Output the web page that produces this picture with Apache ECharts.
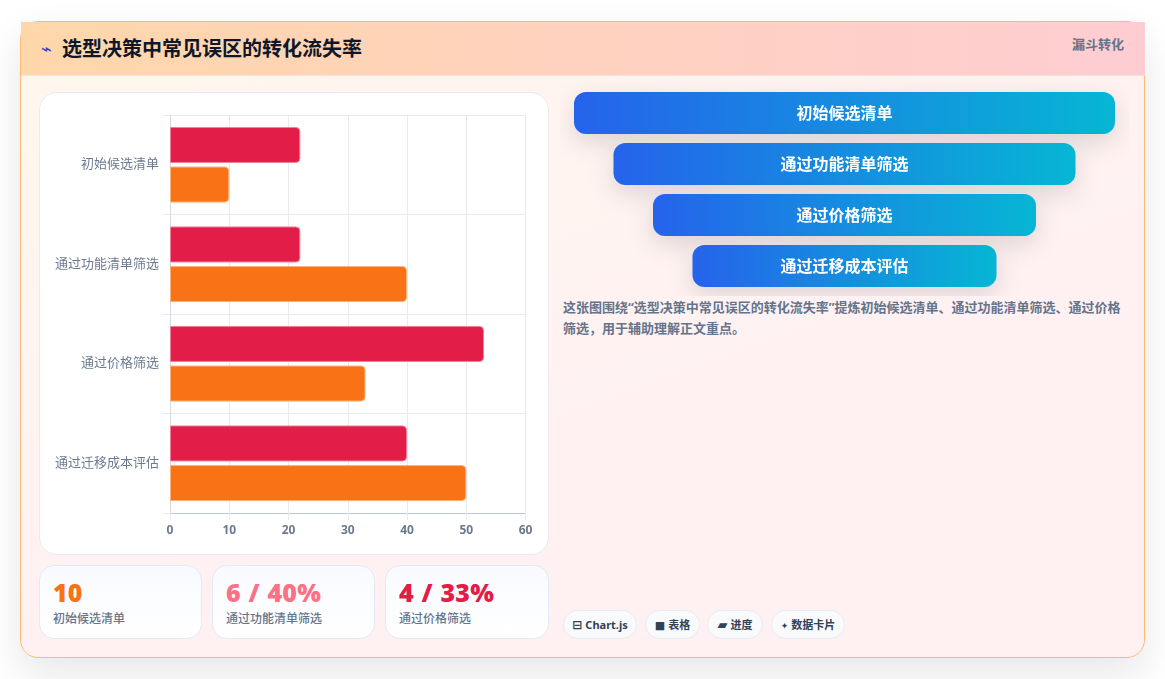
<!DOCTYPE html>
<html lang="zh"><head><meta charset="utf-8">
<script src="https://cdn.jsdelivr.net/npm/echarts@6/dist/echarts.min.js"></script>
<style>
*{box-sizing:border-box;margin:0;padding:0}
html,body{width:1165px;height:679px;overflow:hidden;background:#fff;font-family:"Noto Sans","Noto Sans CJK SC",sans-serif}
.card{position:absolute;left:20px;top:21px;width:1125px;height:637px;border:1px solid #fdba74;border-radius:18px;background:linear-gradient(160deg,#fff7ed,#fff1f2 60%);box-shadow:0 16px 40px rgba(15,23,42,.10)}
.head{position:absolute;left:0;top:0;width:1124px;height:54px;background:linear-gradient(90deg,#fed7aa,#fecdd3);border-bottom:1px solid #f1e4de}
.icon{position:absolute;left:41px;top:39px;font-family:"DejaVu Sans";font-size:18px;line-height:20px;color:#4338ca}
.title{position:absolute;left:62px;top:35px;font-size:20px;line-height:28px;font-weight:700;color:#0f172a;white-space:nowrap}
.tag{position:absolute;left:1072px;top:35px;font-size:13px;line-height:18px;font-weight:700;color:#64748b;white-space:nowrap}
#barPanel{position:absolute;left:39px;top:92px;width:510px;height:463px;background:#fff;border:1px solid #e8ebf3;border-radius:18px}
#bar{position:absolute;left:0;top:0;width:508px;height:461px}
#funnel{position:absolute;left:560px;top:80px;width:570px;height:216px}
.desc{position:absolute;left:563px;top:297px;width:565px;font-size:13px;line-height:21px;font-weight:700;color:#64748b}
.stat{position:absolute;top:565px;height:74px;border:1px solid #e4e9f7;border-radius:15px;background:linear-gradient(180deg,#f8faff,#fff)}
.stat b{position:absolute;left:13px;top:9px;font-size:25px;line-height:34px;font-weight:900;word-spacing:1px;letter-spacing:.2px;white-space:nowrap}
.stat span{position:absolute;left:13px;top:44px;font-size:12px;line-height:18px;font-weight:500;color:#64748b;white-space:nowrap}
.pill{position:absolute;top:610px;height:29px;border:1px solid #e7ecf3;border-radius:15px;background:#f8fafc;font-size:11px;line-height:27px;font-weight:700;color:#334155;text-align:center;white-space:nowrap}
.pill i{font-style:normal;font-family:"DejaVu Sans";margin-right:3px}
</style></head><body>
<div class="card"><div class="head"></div></div>
<div class="icon">⌁</div>
<div class="title" id="title"></div>
<div class="tag">漏斗转化</div>
<div id="barPanel"><div id="bar"></div></div>
<div id="funnel"></div>
<div class="desc" id="desc"></div>
<div id="stats"></div>
<div id="pills"></div>
<script>
const chartTitle = "选型决策中常见误区的转化流失率";
const categories = ["初始候选清单","通过功能清单筛选","通过价格筛选","通过迁移成本评估"];
const redValues = [22,22,53,40];
const orangeValues = [10,40,33,50];
const funnelWidths = [100,85.4,70.8,56.2];
const xTicks = {min:0,max:60,interval:10};
const statValues = ["10","6 / 40%","4 / 33%"];
const statLabels = ["初始候选清单","通过功能清单筛选","通过价格筛选"];
const statColors = ["#f97316","#fb7185","#e11d48"];
const statLefts = [39,212,385];
const statWidths = [163,163,164];
const pillIcons = ["⊟","■","▰","✦"];
const pillIconSizes = [12,11,13,9];
const pillTexts = ["Chart.js","表格","进度","数据卡片"];
const pillLefts = [563,645,707,771];
const pillWidths = [74,55,56,74];
const descText = "这张图围绕“"+chartTitle+"”提炼初始候选清单、通过功能清单筛选、通过价格筛选，用于辅助理解正文重点。";

document.getElementById('title').textContent = chartTitle;
document.getElementById('desc').textContent = descText;
document.getElementById('stats').innerHTML = statValues.map((v,i)=>`<div class="stat" style="left:${statLefts[i]}px;width:${statWidths[i]}px"><b style="color:${statColors[i]}">${v}</b><span>${statLabels[i]}</span></div>`).join('');
document.getElementById('pills').innerHTML = pillTexts.map((t,i)=>`<div class="pill" style="left:${pillLefts[i]}px;width:${pillWidths[i]}px"><i style="font-size:${pillIconSizes[i]}px">${pillIcons[i]}</i>${t}</div>`).join('');

const font = '"Noto Sans","Noto Sans CJK SC",sans-serif';
const grid = '#e8eaf0';
const bar = echarts.init(document.getElementById('bar'));
function barSeries(name,data,color,edge){
  return {name,type:'bar',data,barWidth:36,barGap:'10%',
    itemStyle:{color,borderColor:edge,borderWidth:1,borderRadius:[0,4,4,0]},silent:true,animation:false};
}
bar.setOption({
  animation:false,
  grid:{left:130,top:22,width:355.5,height:398,containLabel:false},
  xAxis:{type:'value',min:xTicks.min,max:xTicks.max,interval:xTicks.interval,
    axisLine:{show:true,onZero:false,lineStyle:{color:'#c0c6d0',width:1}},
    axisTick:{show:true,length:7,lineStyle:{color:grid}},
    axisLabel:{color:'#6b7a90',fontFamily:font,fontSize:12,fontWeight:700,margin:12},
    splitLine:{show:true,lineStyle:{color:grid,width:1}}},
  yAxis:{type:'category',inverse:true,data:categories,
    axisLine:{show:true,onZero:false,lineStyle:{color:'#d5d9e0',width:1}},
    axisTick:{show:true,length:8,lineStyle:{color:grid}},
    axisLabel:{color:'#6b7a90',fontFamily:font,fontSize:13,margin:11},
    splitLine:{show:true,lineStyle:{color:grid,width:1}}},
  series:[barSeries('流失',redValues,'#e11d48','#f2809a'),barSeries('转化',orangeValues,'#f97316','#fcb27a')]
});

const funnel = echarts.init(document.getElementById('funnel'));
funnel.setOption({
  animation:false,
  grid:{left:14,top:7.5,width:541,height:204},
  xAxis:{type:'value',min:-50,max:50,show:false},
  yAxis:{type:'category',inverse:true,data:categories,show:false},
  series:[{type:'custom',silent:true,data:funnelWidths.map((w,i)=>[w,i]),
    encode:{x:0,y:1},
    renderItem(params,api){
      const w = api.value(0), cat = api.value(1);
      const left = api.coord([-w/2,cat]), right = api.coord([w/2,cat]);
      const h = 42;
      return {type:'rect',
        shape:{x:left[0],y:left[1]-h/2,width:right[0]-left[0],height:h,r:12},
        style:{fill:new echarts.graphic.LinearGradient(0,0,1,0,[{offset:0,color:'#2563eb'},{offset:1,color:'#06b6d4'}]),
          shadowBlur:24,shadowOffsetY:8,shadowColor:'rgba(15,23,42,.14)'},
        textContent:{style:{text:categories[cat],fill:'#fff',font:'700 16px '+font,align:'center',verticalAlign:'middle'}},
        textConfig:{position:'inside',offset:[0,1]}};
    }}]
});
</script>
</body></html>
